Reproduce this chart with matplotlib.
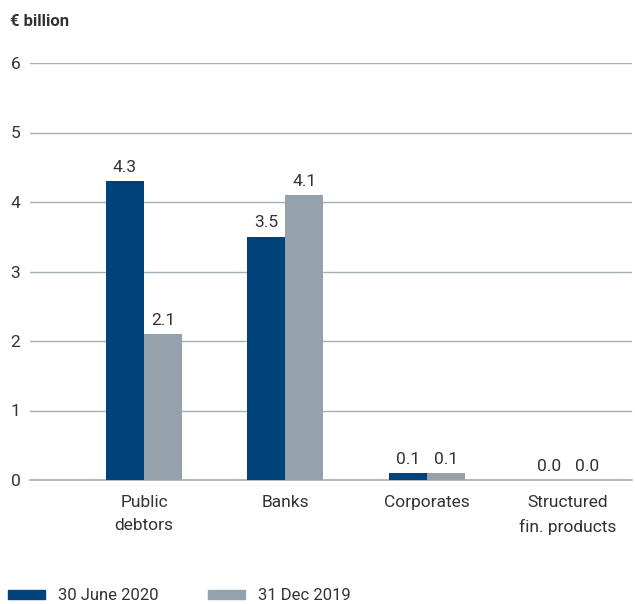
import matplotlib.pyplot as plt
from matplotlib.patches import Rectangle

plt.rcParams['font.family'] = ['Roboto', 'DejaVu Sans']

categories = ["Public\ndebtors", "Banks", "Corporates", "Structured\nfin. products"]
june_2020 = [4.3, 3.5, 0.1, 0.0]
dec_2019 = [2.1, 4.1, 0.1, 0.0]
series_names = ["30 June 2020", "31 Dec 2019"]
y_ticks = [0, 1, 2, 3, 4, 5, 6]

navy = "#00427a"
grey = "#95a1ab"
grid_col = "#a3afbb"
text_col = "#333333"
fs = 12.5

fig = plt.figure(figsize=(6.35, 6.04), dpi=100)
ax = fig.add_axes([30 / 635, 124 / 604, 602 / 635, 417 / 604])

w = 0.269
x = range(len(categories))
ax.bar([i - w / 2 for i in x], june_2020, width=w, color=navy, zorder=3)
ax.bar([i + w / 2 for i in x], dec_2019, width=w, color=grey, zorder=3)

for i in x:
    ax.text(i - w / 2, june_2020[i] + 0.09, f"{june_2020[i]:.1f}", ha="center", va="bottom",
            fontsize=fs, color=text_col)
    ax.text(i + w / 2, dec_2019[i] + 0.09, f"{dec_2019[i]:.1f}", ha="center", va="bottom",
            fontsize=fs, color=text_col)

ax.set_xlim(-0.807, 3.454)
ax.set_ylim(0, 6)
ax.set_yticks(y_ticks)
ax.set_yticklabels([str(t) for t in y_ticks], fontsize=fs, color=text_col)
ax.yaxis.grid(True, color=grid_col, linewidth=1, zorder=0)
ax.axhline(0, color=grid_col, linewidth=1.2, zorder=2, clip_on=False)
ax.tick_params(axis="y", length=0, pad=14)
for lbl in ax.get_yticklabels():
    lbl.set_horizontalalignment("left")
ax.set_xticks(list(x))
ax.set_xticklabels(categories, fontsize=fs, color=text_col, linespacing=1.65)
ax.tick_params(axis="x", length=0, pad=11)
for s in ax.spines.values():
    s.set_visible(False)

fig.text(10 / 635, 1 - 22 / 604, "€ billion", fontsize=12, fontweight="bold",
         color=text_col, va="center", ha="left")

# legend drawn by hand along the bottom edge
for px, col, name in [(8, navy, series_names[0]), (208, grey, series_names[1])]:
    fig.patches.append(Rectangle((px / 635, (604 - 599) / 604), 37 / 635, 9 / 604,
                                 transform=fig.transFigure, color=col))
    fig.text((px + 50) / 635, (604 - 595) / 604, name, fontsize=12, color=text_col,
             va="center", ha="left")

fig.savefig("out.png", dpi=100)
